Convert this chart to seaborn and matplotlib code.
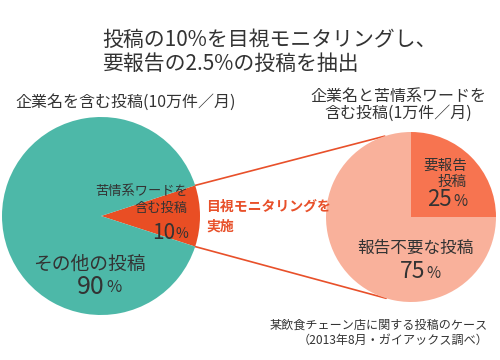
import numpy as np
import matplotlib
matplotlib.use("Agg")
import matplotlib.pyplot as plt
import seaborn as sns

sns.set_theme(style="white")
plt.rcParams["font.family"] = ["Noto Sans CJK JP", "DejaVu Sans"]

# data
left_labels = ["苦情系ワードを\n含む投稿", "その他の投稿"]
left_values = [10, 90]
right_labels = ["要報告\n投稿", "報告不要な投稿"]
right_values = [25, 75]

left_colors = ["#E94E24", "#4DB8A8"]
right_colors = ["#F77450", "#F9B19B"]
accent = "#E8502A"
text_color = "#333333"

W, H = 500, 360


def py(y):
    # pixel row (from top) -> data y
    return H - y


fig = plt.figure(figsize=(5, 3.6), dpi=100)
ax = fig.add_axes([0, 0, 1, 1])

left_c, left_r = (101, py(216)), 99
right_c, right_r = (411, py(217)), 85

# left pie, small slice centred on the right side
left_start = -left_values[0] / sum(left_values) * 360 / 2
ax.pie(left_values, colors=left_colors, startangle=left_start, counterclock=True,
       center=left_c, radius=left_r, wedgeprops=dict(linewidth=0))
# right pie, first slice in the top-right quadrant
ax.pie(right_values, colors=right_colors, startangle=0, counterclock=True,
       center=right_c, radius=right_r, wedgeprops=dict(linewidth=0))

# connector lines from the small slice edges to the right pie
for ang_l, ang_r in [(-left_start, 108), (left_start, -107)]:
    x0 = left_c[0] + left_r * np.cos(np.radians(ang_l))
    y0 = left_c[1] + left_r * np.sin(np.radians(ang_l))
    x1 = right_c[0] + right_r * np.cos(np.radians(ang_r))
    y1 = right_c[1] + right_r * np.sin(np.radians(ang_r))
    ax.plot([x0, x1], [y0, y1], color=accent, lw=1.2, zorder=0)

ax.set_xlim(0, W)
ax.set_ylim(0, H)
ax.set_aspect("auto")
ax.axis("off")


def pct(x, y, value, size, small):
    ax.text(x, py(y), str(value), ha="right", va="center", fontsize=size, color=text_color)
    ax.text(x + 1, py(y) - 1, "%", ha="left", va="center", fontsize=small, color=text_color)


# title
ax.text(102, py(40), "投稿の10%を目視モニタリングし、", ha="left", va="center",
        fontsize=15, color=text_color)
ax.text(102, py(64), "要報告の2.5%の投稿を抽出", ha="left", va="center",
        fontsize=15, color=text_color)

# pie titles
ax.text(15, py(102), "企業名を含む投稿(10万件／月)", ha="left", va="center",
        fontsize=11.5, color=text_color)
ax.text(398, py(96), "企業名と苦情系ワードを", ha="center", va="center",
        fontsize=11.5, color=text_color)
ax.text(398, py(113), "含む投稿(1万件／月)", ha="center", va="center",
        fontsize=11.5, color=text_color)

# left pie labels
for i, line in enumerate(left_labels[0].split("\n")):
    ax.text(188, py(192 + 16 * i), line, ha="right", va="center", fontsize=9.5, color=text_color)
pct(175, 233, left_values[0], 15, 10)
ax.text(89, py(264), left_labels[1], ha="center", va="center", fontsize=13.5, color=text_color)
pct(105, 287, left_values[1], 18, 12)

ax.text(206, py(207), "目視モニタリングを", ha="left", va="center",
        fontsize=10, color=accent, fontweight="bold")
ax.text(206, py(227), "実施", ha="left", va="center",
        fontsize=10, color=accent, fontweight="bold")

# right pie labels
for i, line in enumerate(right_labels[0].split("\n")):
    ax.text(467, py(166 + 16 * i), line, ha="right", va="center", fontsize=10.5, color=text_color)
pct(452, 200, right_values[0], 16, 11)
ax.text(415, py(248), right_labels[1], ha="center", va="center", fontsize=12, color=text_color)
pct(425, 272, right_values[1], 16.5, 11)

# source note
ax.text(488, py(325), "某飲食チェーン店に関する投稿のケース", ha="right", va="center",
        fontsize=8.7, color=text_color)
ax.text(488, py(340), "（2013年8月・ガイアックス調べ）", ha="right", va="center",
        fontsize=8.7, color=text_color)

fig.savefig("out.png", dpi=100, facecolor="white")
